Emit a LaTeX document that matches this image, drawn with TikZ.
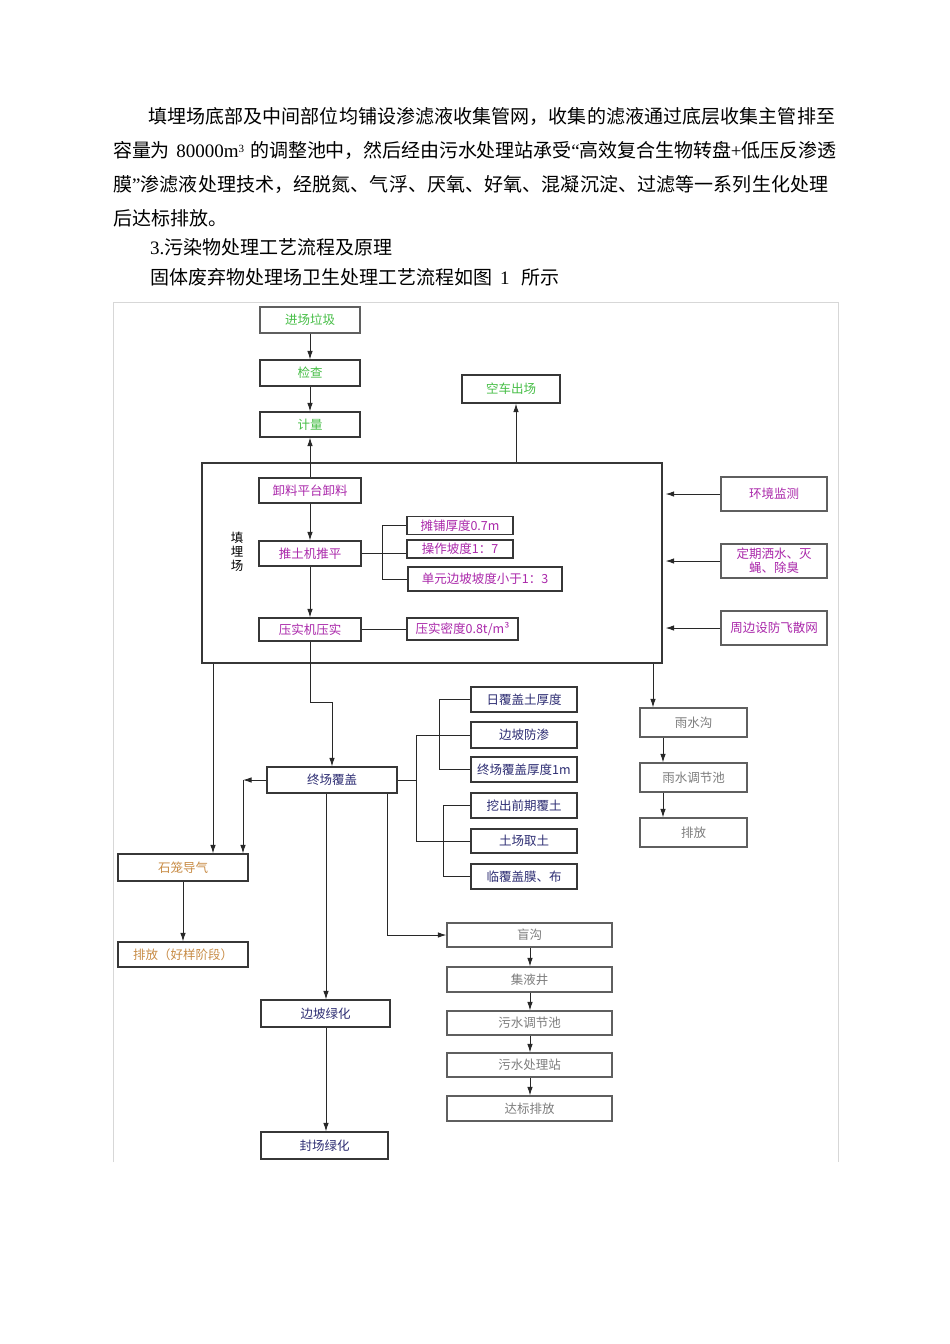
\documentclass[tikz,border=0pt]{standalone}
\usepackage{fontspec}
\setmainfont{Noto Sans CJK SC}
\newfontfamily\lat{Liberation Serif}
\usetikzlibrary{arrows.meta,calc}
\XeTeXlinebreaklocale "zh"
\XeTeXlinebreakskip=0pt plus 3pt minus 0.8pt
\definecolor{tgreen}{RGB}{70,190,70}
\definecolor{tmag}{RGB}{170,40,170}
\definecolor{tnavy}{RGB}{45,45,115}
\definecolor{ttan}{RGB}{200,140,70}
\definecolor{tgray}{RGB}{125,125,125}
\definecolor{framecol}{RGB}{215,215,215}
\definecolor{bdr}{RGB}{55,55,55}
\definecolor{gbdr}{RGB}{95,95,95}
\definecolor{lncol}{RGB}{40,40,40}
\begin{document}
\begin{tikzpicture}[x=1pt,y=-1pt,
  box/.style={draw=bdr, line width=1.2pt, inner sep=0pt, font=\fontsize{12.5}{14}\selectfont, align=center},
  gbox/.style={box, draw=gbdr},
  arr/.style={-{Latex[length=8.5pt,width=5.5pt]}, line width=0.9pt, draw=lncol},
  lnk/.style={line width=0.9pt, draw=lncol},
  para/.style={anchor=west, inner sep=0pt, font=\fontsize{19}{23}\selectfont},
]
\useasboundingbox[fill=white] (0,0) rectangle (950,1344);

% paragraph text
\node[para, text width=688pt] (p1) at (148,116) {\parfillskip=0pt\parindent=0pt\tolerance=9999 填埋场底部及中间部位均铺设渗滤液收集管网，收集的滤液通过底层收集主管排至\par};
\node[para, text width=723pt] (p2) at (113,150) {\parfillskip=0pt\parindent=0pt\tolerance=9999 容量为 {\lat 80000m\raisebox{0.55ex}{\fontsize{11}{11}\selectfont 3}} 的调整池中，然后经由污水处理站承受{\lat “}高效复合生物转盘{\lat +}低压反渗透\par};
\node[para, text width=717pt] (p3) at (113,184) {\parfillskip=0pt\parindent=0pt\tolerance=9999 膜{\lat ”}渗滤液处理技术，经脱氮、气浮、厌氧、好氧、混凝沉淀、过滤等一系列生化处理\par};
\node[para] (p4) at (113,218) {后达标排放。};
\node[para] (p5) at (150,247) {{\lat 3.}污染物处理工艺流程及原理};
\node[para] (p6) at (150,277) {固体废弃物处理场卫生处理工艺流程如图\hspace{8pt}{\lat 1}\hspace{12pt}所示};

% frame
\draw[framecol, line width=1pt] (113,1162) -- (113,302) -- (838,302) -- (838,1162);

% top chain
\node[box, draw=gbdr, text=tgreen, minimum width=100pt, minimum height=26pt] (jc) at (310,320) {进场垃圾};
\node[box, text=tgreen, minimum width=100pt, minimum height=26pt] (jcha) at (310,373) {检查};
\node[box, text=tgreen, minimum width=100pt, minimum height=25pt] (jl) at (310,424.5) {计量};
\node[box, text=tgreen, minimum width=98pt, minimum height=28pt] (kc) at (511,389) {空车出场};

% landfill big box
\node[draw=bdr, line width=1.2pt, minimum width=460pt, minimum height=200pt, inner sep=0pt] (tm) at (432,563) {};
\node[inner sep=0pt, align=center, font=\fontsize{12.5}{14}\selectfont] (tml) at (237,552) {填\\埋\\场};
\node[box, text=tmag, minimum width=102pt, minimum height=25pt] (xl) at (310,490.5) {卸料平台卸料};
\node[box, text=tmag, minimum width=102pt, minimum height=25pt] (tt) at (310,553.5) {推土机推平};
\node[box, text=tmag, minimum width=102pt, minimum height=23pt] (ys) at (310,629.5) {压实机压实};
\node[box, text=tmag, minimum width=106pt, minimum height=18pt] (tp) at (460,525.5) {摊铺厚度0.7m};
\node[box, text=tmag, minimum width=106pt, minimum height=18pt] (cz) at (460,549) {操作坡度1：7};
\node[box, text=tmag, minimum width=154pt, minimum height=24pt] (dy) at (485,579) {单元边坡坡度小于1：3};
\node[box, text=tmag, minimum width=111pt, minimum height=22pt] (ymd) at (462.5,629) {压实密度0.8t/m³};

% right side boxes
\node[gbox, text=tmag, minimum width=106pt, minimum height=34pt] (hj) at (774,494) {环境监测};
\node[gbox, text=tmag, minimum width=106pt, minimum height=34pt] (dq) at (774,561) {定期洒水、灭\\蝇、除臭};
\node[gbox, text=tmag, minimum width=106pt, minimum height=34pt] (zb) at (774,628) {周边设防飞散网};

% rain chain
\node[gbox, text=tgray, minimum width=107pt, minimum height=29pt] (yg) at (693.5,722.5) {雨水沟};
\node[gbox, text=tgray, minimum width=107pt, minimum height=29pt] (yt) at (693.5,777.5) {雨水调节池};
\node[gbox, text=tgray, minimum width=107pt, minimum height=29pt] (pf) at (693.5,832.5) {排放};

% cover boxes
\node[box, text=tnavy, minimum width=106pt, minimum height=25pt] (rf) at (524,699.5) {日覆盖土厚度};
\node[box, text=tnavy, minimum width=106pt, minimum height=26pt] (bf) at (524,735) {边坡防渗};
\node[box, text=tnavy, minimum width=106pt, minimum height=25pt] (zf) at (524,769.5) {终场覆盖厚度1m};
\node[box, text=tnavy, minimum width=106pt, minimum height=25pt] (wc) at (524,805.5) {挖出前期覆土};
\node[box, text=tnavy, minimum width=106pt, minimum height=24pt] (tc) at (524,841) {土场取土};
\node[box, text=tnavy, minimum width=106pt, minimum height=25pt] (lf) at (524,876.5) {临覆盖膜、布};

\node[box, text=tnavy, minimum width=130pt, minimum height=26pt] (zcf) at (332,780) {终场覆盖};
\node[box, text=ttan, minimum width=130pt, minimum height=27pt] (sl) at (183,867.5) {石笼导气};
\node[box, text=ttan, minimum width=130pt, minimum height=25pt] (pfh) at (183,954.5) {排放（好样阶段）};

% blind ditch chain
\node[gbox, text=tgray, minimum width=165pt, minimum height=24pt] (mg) at (529.5,935) {盲沟};
\node[gbox, text=tgray, minimum width=165pt, minimum height=25pt] (jy) at (529.5,979.5) {集液井};
\node[gbox, text=tgray, minimum width=165pt, minimum height=24pt] (wt) at (529.5,1023) {污水调节池};
\node[gbox, text=tgray, minimum width=165pt, minimum height=24pt] (wcl) at (529.5,1065) {污水处理站};
\node[gbox, text=tgray, minimum width=165pt, minimum height=25pt] (db) at (529.5,1108.5) {达标排放};

\node[box, text=tnavy, minimum width=129pt, minimum height=27pt] (bl) at (325.5,1013.5) {边坡绿化};
\node[box, text=tnavy, minimum width=127pt, minimum height=27pt] (fl) at (324.5,1145.5) {封场绿化};

% helper coordinates
\coordinate (xk) at (516,0);
\coordinate (xb1) at (382,0);
\coordinate (xr) at (653,0);
\coordinate (xr2) at (663,0);
\coordinate (ybend) at (0,702);
\coordinate (xl1) at (213,0);
\coordinate (xl2) at (243,0);
\coordinate (xm1) at (326,0);
\coordinate (xm2) at (387,0);
\coordinate (xb2) at (416,0);
\coordinate (xb3) at (439,0);
\coordinate (xb4) at (443,0);
\coordinate (xs) at (530,0);

% connectors
\draw[arr] (jc.south) -- (jcha.north);
\draw[arr] (jcha.south) -- (jl.north);
\draw[arr] (xl.north) -- (jl.south);
\draw[arr] (tm.north -| xk) -- (kc.south -| xk);
\draw[arr] (xl.south) -- (tt.north);
\draw[arr] (tt.south) -- (ys.north);
\draw[lnk] (tt.east) -- (tt.east -| cz.west);
\draw[lnk] (tp.west) -- (tp.west -| xb1) |- (dy.west);
\draw[lnk] (ys.east) -- (ys.east -| ymd.west);
\draw[arr] (hj.west) -- ([xshift=3pt]hj.west -| tm.east);
\draw[arr] (dq.west) -- ([xshift=3pt]dq.west -| tm.east);
\draw[arr] (zb.west) -- ([xshift=3pt]zb.west -| tm.east);
\draw[arr] (tm.south -| xr) -- (yg.north -| xr);
\draw[arr] (yg.south -| xr2) -- (yt.north -| xr2);
\draw[arr] (yt.south -| xr2) -- (pf.north -| xr2);
\draw[arr] (ys.south) -- (ys.south |- ybend) -| (zcf.north);
\draw[arr] (tm.south -| xl1) -- (sl.north -| xl1);
\draw[arr] (zcf.west) -- (zcf.west -| xl2);
\draw[arr] (zcf.west -| xl2) -- (sl.north -| xl2);
\draw[arr] (sl.south) -- (pfh.north);
\draw[arr] (zcf.south -| xm1) -- (bl.north -| xm1);
\draw[arr] (bl.south -| xm1) -- (fl.north -| xm1);
\draw[arr] (zcf.south -| xm2) |- (mg.west);
\draw[arr] (mg.south -| xs) -- (jy.north -| xs);
\draw[arr] (jy.south -| xs) -- (wt.north -| xs);
\draw[arr] (wt.south -| xs) -- (wcl.north -| xs);
\draw[arr] (wcl.south -| xs) -- (db.north -| xs);
\draw[lnk] (zcf.east) -- (zcf.east -| xb2);
\draw[lnk] (bf.west) -- (bf.west -| xb2) |- (tc.west);
\draw[lnk] (rf.west) -- (rf.west -| xb3) |- (zf.west);
\draw[lnk] (wc.west) -- (wc.west -| xb4) |- (lf.west);
\end{tikzpicture}
\end{document}
